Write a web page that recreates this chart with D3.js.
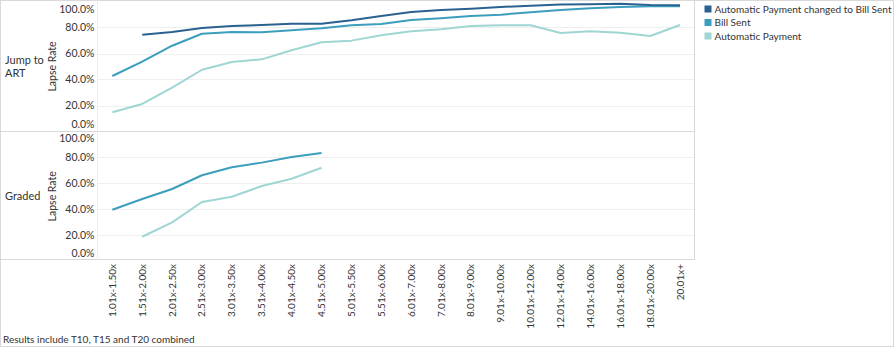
<!DOCTYPE html>
<html><head><meta charset="utf-8">
<script src="https://cdn.jsdelivr.net/npm/d3@7"></script>
<style>
html,body{margin:0;padding:0;background:#fff;}
svg{display:block;font-family:Lato, "Noto Sans", sans-serif;}
</style></head>
<body><svg id="c" width="896" height="349"></svg>
<script>
const categories = ["1.01x-1.50x","1.51x-2.00x","2.01x-2.50x","2.51x-3.00x","3.01x-3.50x","3.51x-4.00x","4.01x-4.50x","4.51x-5.00x","5.01x-5.50x","5.51x-6.00x","6.01x-7.00x","7.01x-8.00x","8.01x-9.00x","9.01x-10.00x","10.01x-12.00x","12.01x-14.00x","14.01x-16.00x","16.01x-18.00x","18.01x-20.00x","20.01x+"];
const seriesNames = ["Automatic Payment changed to Bill Sent","Bill Sent","Automatic Payment"];
const colors = ["#2b6190","#3c9ebd","#9fd6d3"];
const rows = ["Jump to ART","Graded"];
// Jump to ART (percent)
const jumpChanged = [null,74.5,76.5,79.6,81.2,81.9,82.9,82.9,85.5,88.8,91.9,93.5,94.5,95.8,96.8,97.6,97.8,98.3,97.3,97.1];
const jumpBill    = [42.7,53.7,66.0,75.2,76.5,76.3,77.8,79.4,81.7,82.7,85.8,87.1,88.8,89.9,91.7,93.5,94.8,95.8,96.3,96.3];
const jumpAuto    = [14.8,21.2,33.7,47.5,53.5,55.5,62.5,68.6,69.9,74.0,77.1,78.6,81.2,81.7,81.7,75.8,77.1,76.0,73.5,81.9];
// Graded (percent)
const gradedChanged = [];
const gradedBill    = [39.7,47.9,55.6,66.2,72.3,75.9,80.2,83.3];
const gradedAuto    = [null,18.9,30.0,45.6,49.7,57.9,63.5,72.0];
const yTicks = [0,20,40,60,80,100];
const footnote = "Results include T10, T15 and T20 combined";

const panels = [
  {label:["Jump to","ART"], series:[jumpChanged,jumpBill,jumpAuto], top:1.5},
  {label:["Graded"], series:[gradedChanged,gradedBill,gradedAuto], top:131.3}
];
const svg = d3.select("#c");
const paneL = 97.4, paneR = 695, paneH = 130;
const x = d3.scaleBand().domain(categories).range([paneL,paneR]);
const border = "#d9d9d9";

function fitText(sel, target){
  const node = sel.node();
  const w = node.getComputedTextLength();
  const fs = parseFloat(sel.attr("font-size"));
  if (w > 0) sel.attr("font-size", (fs*target/w).toFixed(2));
}

// outer border
svg.append("rect").attr("x",0.5).attr("y",0.5).attr("width",893).attr("height",346)
  .attr("fill","none").attr("stroke",border);

panels.forEach((p,pi)=>{
  const y = d3.scaleLinear().domain([0,100]).range([p.top+paneH,p.top]);
  const g = svg.append("g");
  g.selectAll("line.grid").data([20,40,60,80]).join("line")
    .attr("x1",paneL).attr("x2",paneR).attr("y1",d=>Math.round(y(d))+0.5).attr("y2",d=>Math.round(y(d))+0.5)
    .attr("stroke","#efefef").attr("stroke-width",1);
  g.selectAll("text.yt").data(yTicks).join("text")
    .attr("x",94.5).attr("y",d=>{let v=y(d); if(d===100) v=p.top+7.5; if(d===0) v=p.top+paneH-7.5; return v;})
    .attr("dy","0.35em").attr("text-anchor","end").attr("font-size",10.5).attr("fill","#333")
    .text(d=>d.toFixed(1)+"%");
  g.append("text").attr("transform",`translate(55.5,${p.top+paneH/2}) rotate(-90)`)
    .attr("text-anchor","middle").attr("font-size",10.5).attr("fill","#333").text("Lapse Rate");
  const lab = g.append("text").attr("x",5).attr("font-size",11).attr("fill","#333");
  p.label.forEach((t,i)=>{
    lab.append("tspan").attr("x",5).attr("y",p.top+paneH/2 + (i-(p.label.length-1)/2)*12.6).attr("dy","0.35em").text(t);
  });
  const line = d3.line().defined(d=>d!=null).x((d,i)=>x(categories[i])+x.bandwidth()/2).y(d=>y(d));
  [2,1,0].forEach(si=>{
    const data = p.series[si];
    if(!data.length) return;
    g.append("path").datum(data).attr("d",line).attr("fill","none")
      .attr("stroke",colors[si]).attr("stroke-width",2).attr("stroke-linejoin","round");
  });
});

svg.append("line").attr("x1",0).attr("x2",695).attr("y1",131.5).attr("y2",131.5).attr("stroke",border);
svg.append("line").attr("x1",0).attr("x2",695).attr("y1",259.5).attr("y2",259.5).attr("stroke",border);
svg.append("line").attr("x1",694.5).attr("x2",694.5).attr("y1",0).attr("y2",260).attr("stroke",border);
svg.append("line").attr("x1",97.5).attr("x2",97.5).attr("y1",0).attr("y2",260).attr("stroke","#ececec");

svg.append("g").selectAll("text").data(categories).join("text")
  .attr("transform",d=>`translate(${x(d)+x.bandwidth()/2},264) rotate(-90)`)
  .attr("text-anchor","end").attr("dy","0.35em").attr("font-size",10).attr("fill","#333").text(d=>d);

const lg = svg.append("g");
let legendFs = 11;
seriesNames.forEach((n,i)=>{
  lg.append("rect").attr("x",704.5).attr("y",5.5+i*13.5).attr("width",7).attr("height",7).attr("fill",colors[i]);
  const t = lg.append("text").attr("x",714.5).attr("y",9+i*13.5).attr("dy","0.35em").attr("font-size",11).attr("fill","#333").text(n);
  if(i===0){ fitText(t,177); legendFs = t.attr("font-size"); }
  else t.attr("font-size",legendFs);
});

const fn = svg.append("text").attr("x",3).attr("y",343).attr("font-size",10.5).attr("fill","#333").text(footnote);
fitText(fn,192);
</script></body></html>
